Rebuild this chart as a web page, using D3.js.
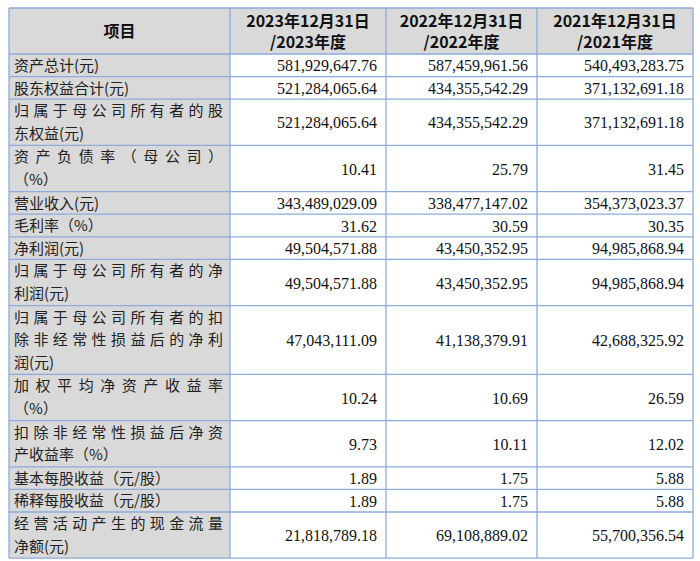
<!DOCTYPE html>
<html><head><meta charset="utf-8">
<script src="https://cdn.jsdelivr.net/npm/d3@7"></script>
<style>body{margin:0;background:#fff;}</style>
</head><body>
<script>
var headers = ["项目", ["2023年12月31日", "/2023年度"], ["2022年12月31日", "/2022年度"], ["2021年12月31日", "/2021年度"]];
var labels = [
  ["资产总计(元)"],
  ["股东权益合计(元)"],
  ["归属于母公司所有者的股", "东权益(元)"],
  ["资产负债率（母公司）", "（%）"],
  ["营业收入(元)"],
  ["毛利率（%）"],
  ["净利润(元)"],
  ["归属于母公司所有者的净", "利润(元)"],
  ["归属于母公司所有者的扣", "除非经常性损益后的净利", "润(元)"],
  ["加权平均净资产收益率", "（%）"],
  ["扣除非经常性损益后净资", "产收益率（%）"],
  ["基本每股收益（元/股）"],
  ["稀释每股收益（元/股）"],
  ["经营活动产生的现金流量", "净额(元)"]
];
var v2023 = ["581,929,647.76","521,284,065.64","521,284,065.64","10.41","343,489,029.09","31.62","49,504,571.88","49,504,571.88","47,043,111.09","10.24","9.73","1.89","1.89","21,818,789.18"];
var v2022 = ["587,459,961.56","434,355,542.29","434,355,542.29","25.79","338,477,147.02","30.59","43,450,352.95","43,450,352.95","41,138,379.91","10.69","10.11","1.75","1.75","69,108,889.02"];
var v2021 = ["540,493,283.75","371,132,691.18","371,132,691.18","31.45","354,373,023.37","30.35","94,985,868.94","94,985,868.94","42,688,325.92","26.59","12.02","5.88","5.88","55,700,356.54"];

(function() {
  var W = 700, H = 561, cols = [9, 230, 386, 537, 693], y0top = 8, headH = 46, lineH = 22.6;
  var svg = d3.select("body").append("svg").attr("width", W).attr("height", H);
  var border = "#8eaadb", grey = "#d9d9d9";

  // row positions from line counts
  var ys = [y0top + headH];
  labels.forEach(function(l) { ys.push(ys[ys.length - 1] + l.length * lineH + (l.length > 1 ? 1 : 0)); });
  var bottom = ys[ys.length - 1];

  svg.append("rect").attr("x", cols[0]).attr("y", y0top).attr("width", cols[4] - cols[0]).attr("height", headH).attr("fill", grey);
  svg.append("rect").attr("x", cols[0]).attr("y", y0top).attr("width", cols[1] - cols[0]).attr("height", bottom - y0top).attr("fill", grey);

  headers.forEach(function(h, i) {
    var cx = (cols[i] + cols[i + 1]) / 2;
    var lines = typeof h === "string" ? [h] : h;
    lines.forEach(function(t, j) {
      svg.append("text").attr("x", cx).attr("y", y0top + headH / 2 + (j - (lines.length - 1) / 2) * 21 + 6)
        .attr("text-anchor", "middle").attr("font-family", "'Noto Sans CJK SC'").attr("font-weight", "bold")
        .attr("font-size", 16).attr("fill", "#111").text(t);
    });
  });

  var cn = "'Noto Sans CJK SC'", num = "'Liberation Serif'";
  labels.forEach(function(l, r) {
    var a = ys[r], b = ys[r + 1];
    l.forEach(function(t, j) {
      var tx = svg.append("text").attr("x", cols[0] + 5).attr("y", a + 17 + j * lineH)
        .attr("font-family", cn).attr("font-size", 15).attr("fill", "#222").text(t);
      if (l.length > 1 && j < l.length - 1) tx.attr("textLength", cols[1] - cols[0] - 12).attr("lengthAdjust", "spacing");
    });
    [v2023, v2022, v2021].forEach(function(arr, c) {
      svg.append("text").attr("x", cols[c + 2] - 9).attr("y", (a + b) / 2 + 6)
        .attr("text-anchor", "end").attr("font-family", num).attr("font-size", 16).attr("fill", "#111").text(arr[r]);
    });
  });

  ys.concat([y0top]).forEach(function(y) {
    svg.append("line").attr("x1", cols[0]).attr("x2", cols[4]).attr("y1", y).attr("y2", y).attr("stroke", border).attr("stroke-width", 1.3);
  });
  cols.forEach(function(x) {
    svg.append("line").attr("x1", x).attr("x2", x).attr("y1", y0top).attr("y2", bottom).attr("stroke", border).attr("stroke-width", 1.3);
  });
})();
</script>
</body></html>
